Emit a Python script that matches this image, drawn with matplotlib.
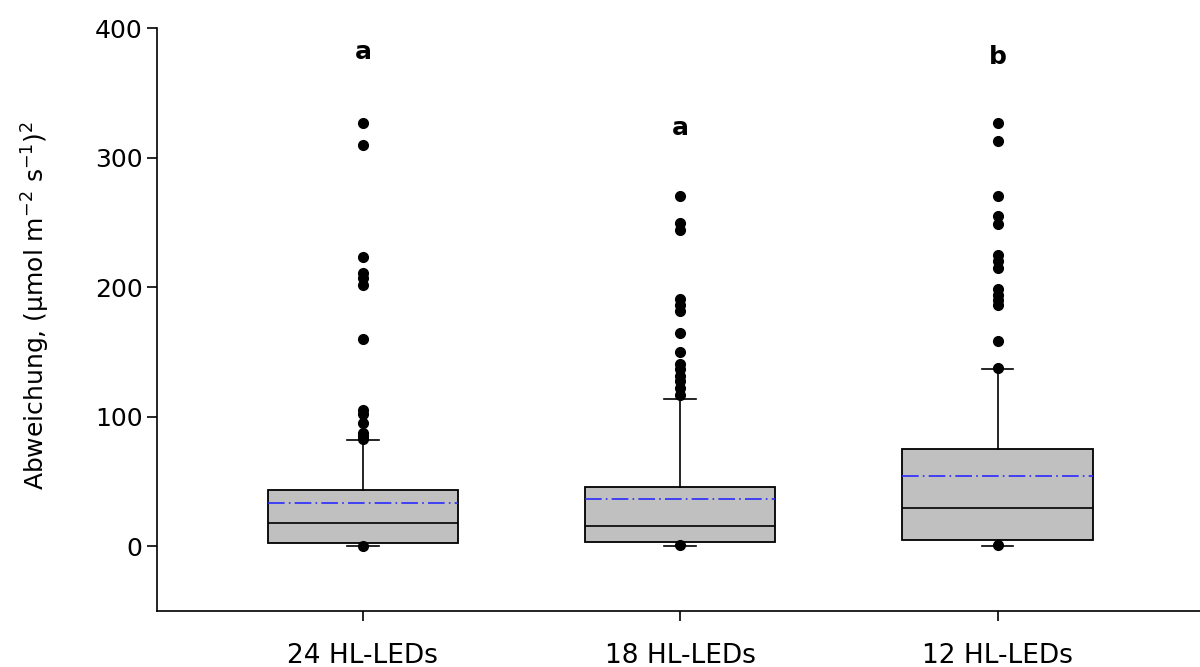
import matplotlib
matplotlib.use("Agg")
import matplotlib.pyplot as plt
import numpy as np

plt.rcParams['font.family'] = ['DejaVu Sans']
plt.rcParams['mathtext.default'] = 'regular'

categories = ["24 HL-LEDs", "18 HL-LEDs", "12 HL-LEDs"]
q1 = [2.3, 3.3, 4.9]
medians = [17.7, 15.6, 29.8]
q3 = [43.0, 45.7, 75.3]
means = [33.0, 36.7, 54.2]
whisker_low = [0.0, 0.0, 0.0]
whisker_high = [81.7, 113.3, 136.9]
outliers_24 = [326.7, 309.8, 223.3, 210.9, 207.0, 201.9, 160.0, 105.0, 101.7,
               95.3, 87.6, 85.0, 82.5, 0.3]
outliers_18 = [270.0, 249.4, 244.3, 190.9, 186.5, 181.4, 164.7, 150.0, 140.3,
               136.4, 131.3, 127.4, 122.3, 116.4, 1.0]
outliers_12 = [327.0, 312.4, 270.0, 254.6, 248.9, 225.0, 220.4, 214.7, 198.5,
               194.2, 190.4, 186.5, 158.2, 137.7, 0.8]
letters = ["a", "a", "b"]
letter_y = [381.5, 323.0, 377.6]

outliers = [outliers_24, outliers_18, outliers_12]
stats = []
for i, c in enumerate(categories):
    stats.append(dict(label=c, q1=q1[i], med=medians[i], q3=q3[i],
                      whislo=whisker_low[i], whishi=whisker_high[i],
                      fliers=outliers[i], mean=means[i]))

fig = plt.figure(figsize=(12, 6.67), dpi=100)
ax = fig.add_axes([0.1308, 0.084, 0.8692, 0.874])

positions = np.arange(1, len(categories) + 1)
ax.bxp(stats, positions=positions, widths=0.6, patch_artist=True,
       showmeans=True, meanline=True, capwidths=0.1,
       boxprops=dict(facecolor='#c0c0c0', edgecolor='black', linewidth=1.3),
       medianprops=dict(color='black', linewidth=1.2),
       whiskerprops=dict(color='black', linewidth=1.2),
       capprops=dict(color='black', linewidth=1.2),
       meanprops=dict(color='#2a2aff', linewidth=1.2,
                      linestyle=(0, (10, 2.5, 1, 2.5))),
       flierprops=dict(marker='o', markerfacecolor='black', markeredgecolor='black',
                       markersize=7))

for p, l, y in zip(positions, letters, letter_y):
    ax.text(p, y, l, ha='center', va='center', fontsize=18, fontweight='bold')

ax.set_xlim(0.351, 3.638)
ax.set_ylim(-50, 400)
ax.set_yticks([0, 100, 200, 300, 400])
ax.set_xticks(positions)
ax.set_xticklabels(categories)
ax.tick_params(axis='both', labelsize=18, direction='out', length=7, width=1.2)
ax.tick_params(axis='x', pad=16, labelsize=19)
ax.spines['top'].set_visible(False)
ax.spines['right'].set_visible(False)
ax.spines['left'].set_linewidth(1.2)
ax.spines['bottom'].set_linewidth(1.2)
ax.set_ylabel(r'Abweichung, (µmol m$^{-2}$ s$^{-1}$)$^{2}$', fontsize=18)
ax.yaxis.set_label_coords(-0.101, 0.525)

fig.savefig("out.png", dpi=100)
